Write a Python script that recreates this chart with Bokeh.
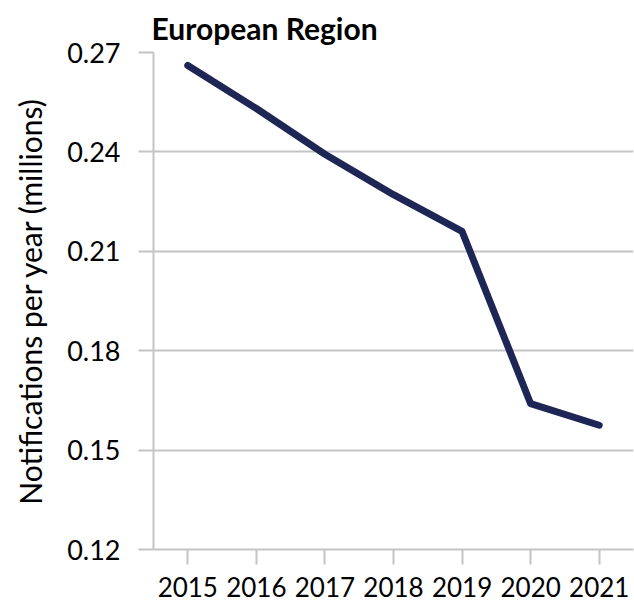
from bokeh.plotting import figure
from bokeh.models import Range1d, FixedTicker, PrintfTickFormatter
from bokeh.embed import file_html
from bokeh.resources import INLINE

years = [2015, 2016, 2017, 2018, 2019, 2020, 2021]
notifications = [0.2661, 0.2531, 0.2393, 0.2271, 0.2160, 0.1640, 0.1575]
y_ticks = [0.12, 0.15, 0.18, 0.21, 0.24, 0.27]
title_text = "European Region"

FONT = "Lato"
GRID = "#c4c4c4"

p = figure(width=634, height=606, output_backend="svg", toolbar_location=None,
           x_range=Range1d(2014.5, 2021.5), y_range=Range1d(0.12, 0.27),
           min_border_left=153, min_border_right=1, min_border_top=52,
           min_border_bottom=57)

p.line(years, notifications, line_color="#1e2656", line_width=7,
       line_cap="round", line_join="round")

p.title.text = title_text
p.title.text_font = FONT
p.title.text_font_style = "bold"
p.title.text_font_size = "30px"
p.title.text_color = "#000000"
p.title.offset = -2
p.title.standoff = 13

p.outline_line_color = None
p.xgrid.grid_line_color = None
p.ygrid.grid_line_color = GRID
p.ygrid.grid_line_width = 2

p.xaxis.ticker = FixedTicker(ticks=years)
p.yaxis.ticker = FixedTicker(ticks=y_ticks)
p.yaxis.formatter = PrintfTickFormatter(format="%.2f")
p.yaxis.axis_label = "Notifications per year (millions)"

for ax in (p.xaxis[0], p.yaxis[0]):
    ax.axis_line_color = GRID
    ax.axis_line_width = 2
    ax.major_tick_line_color = GRID
    ax.major_tick_line_width = 2
    ax.major_tick_in = 0
    ax.major_tick_out = 15
    ax.minor_tick_line_color = None
    ax.major_label_text_font = FONT
    ax.major_label_text_font_size = "27px"
    ax.major_label_text_color = "#000000"
    ax.axis_label_text_font = FONT
    ax.axis_label_text_font_size = "30px"
    ax.axis_label_text_font_style = "normal"
    ax.axis_label_text_color = "#000000"

p.xaxis.major_label_text_font_size = "26px"
p.yaxis.major_label_standoff = 18
p.xaxis.major_label_standoff = 12
p.yaxis.axis_label_standoff = 16

open("out.html", "w").write(file_html(p, INLINE))
